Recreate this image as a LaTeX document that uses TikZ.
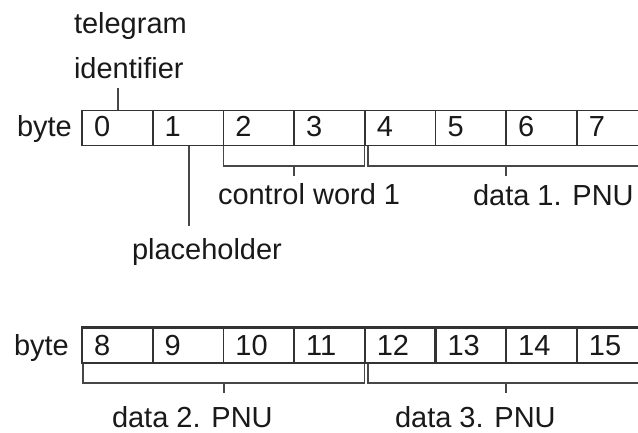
\documentclass[tikz,border=0pt]{standalone}
\usepackage{fontspec}
\setmainfont{Liberation Sans}
\begin{document}
\begin{tikzpicture}[x=1pt,y=-1pt,
  lbl/.style={anchor=base west,inner sep=0pt,outer sep=0pt,text=black!90,font=\fontsize{29}{34}\selectfont},
  thinl/.style={draw=black!80,line width=1.2pt},
  thickl/.style={draw=black!80,line width=2.3pt},
  midl/.style={draw=black!80,line width=1.7pt},
  brk/.style={draw=black!72,line width=1.2pt}]
\useasboundingbox (0,0) rectangle (638,432);
\fill[white] (0,0) rectangle (638,432);

% ---- row 1 ----
\node[lbl] (tg1) at (74,33) {telegram};
\node[lbl] (tg2) at (74,78) {identifier};
\node[lbl] (byte1) at (17,136) {byte};
\foreach \i/\x in {0/82,1/152.7,2/223.4,3/294.1,4/364.8,5/435.5,6/506.2,7/576.9}{
  \node[lbl] (c\i) at (\x+12,136) {\i};
}
\draw[thinl] (80.9,110.5) -- (638,110.5);
\draw[midl] (81,145.5) -- (638,145.5);
\draw[midl] (82,110) -- (82,146);
\foreach \x in {152.7,294.1,364.8,435.5,506.2}{\draw[midl] (\x,110) -- (\x,146);}
\foreach \x in {223.4,576.9}{\draw[thinl] (\x,110) -- (\x,146);}

\coordinate (tgl) at (118,88);
\coordinate (tgb) at (118,110);
\draw[brk] (tgl) -- (tgb);

\coordinate (phb) at (189,146);
\coordinate (phe) at (189,226);
\draw[brk] (phb) -- (phe);
\node[lbl] (ph) at (132,259) {placeholder};

\coordinate (cwA) at (223.4,146);
\coordinate (cwB) at (364.8,146);
\draw[brk] (cwA) -- (223.4,166) -- (364.8,166) -- (cwB);
\coordinate (cwt) at (294,166);
\coordinate (cwte) at (294,176);
\draw[brk] (cwt) -- (cwte);
\node[lbl] (cw) at (218,204) {control word 1};

\coordinate (d1A) at (368,146);
\draw[brk] (d1A) -- (368,166) -- (640,166);
\coordinate (d1t) at (506,166);
\coordinate (d1te) at (506,176);
\draw[brk] (d1t) -- (d1te);
\node[lbl] (d1) at (473,205) {data 1. PNU};

% ---- row 2 ----
\node[lbl] (byte2) at (14,355) {byte};
\foreach \i/\x in {8/82,9/152.7,10/223.4,11/294.1,12/364.8,13/435.5,14/506.2,15/576.9}{
  \node[lbl] (c\i) at (\x+12,355) {\i};
}
\draw[thickl] (81,327.5) -- (638,327.5);
\draw[thickl] (81,363) -- (638,363);
\draw[thickl] (82,327) -- (82,364);
\foreach \x in {152.7,294.1,364.8,435.5,506.2}{\draw[thickl] (\x,327) -- (\x,364);}
\foreach \x in {223.4,576.9}{\draw[thinl] (\x,327) -- (\x,364);}

\coordinate (d2A) at (83,364);
\coordinate (d2B) at (364.8,364);
\draw[brk] (d2A) -- (83,383) -- (364.8,383) -- (d2B);
\coordinate (d2t) at (224,383);
\coordinate (d2te) at (224,393);
\draw[brk] (d2t) -- (d2te);
\node[lbl] (d2) at (112,427) {data 2. PNU};

\coordinate (d3A) at (368,364);
\draw[brk] (d3A) -- (368,383) -- (640,383);
\coordinate (d3t) at (506,383);
\coordinate (d3te) at (506,393);
\draw[brk] (d3t) -- (d3te);
\node[lbl] (d3) at (395,427) {data 3. PNU};
\end{tikzpicture}
\end{document}
